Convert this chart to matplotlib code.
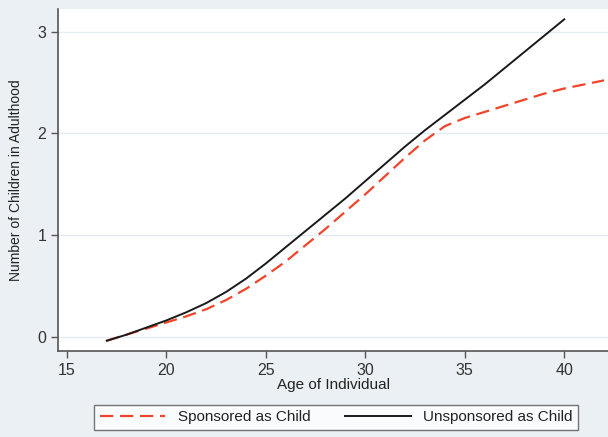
import matplotlib.pyplot as plt

plt.rcParams['font.family'] = ['Liberation Sans', 'DejaVu Sans']

# data
ages_unsp = [17, 18, 19, 20, 21, 22, 23, 24, 25, 26, 27, 28, 29, 30,
             31, 32, 33, 34, 35, 36, 37, 38, 39, 40]
children_unsp = [-0.04, 0.02, 0.09, 0.16, 0.24, 0.33, 0.44, 0.57, 0.72, 0.88, 1.04, 1.20,
                 1.36, 1.53, 1.70, 1.87, 2.03, 2.18, 2.33, 2.48, 2.64, 2.80, 2.96, 3.12]

ages_sp = [17, 18, 19, 20, 21, 22, 23, 24, 25, 26, 27, 28, 29, 30,
           31, 32, 33, 34, 35, 36, 37, 38, 39, 40, 41, 42]
children_sp = [-0.04, 0.02, 0.08, 0.14, 0.20, 0.27, 0.36, 0.47, 0.60, 0.74, 0.90, 1.06,
               1.23, 1.40, 1.58, 1.76, 1.93, 2.07, 2.15, 2.21, 2.27, 2.33, 2.39, 2.44,
               2.48, 2.52]

xticks = [15, 20, 25, 30, 35, 40]
yticks = [0, 1, 2, 3]

bg = '#eaf0f4'
grey = '#555555'

fig = plt.figure(figsize=(6.08, 4.37), dpi=100, facecolor=bg)
ax = fig.add_axes([0.0954, 0.197, 0.9046, 0.782])
ax.set_facecolor('white')

for y in yticks:
    ax.axhline(y, color='#e4ecf0', linewidth=1.0, zorder=0)

ax.plot(ages_sp, children_sp, color='#f0452b', linewidth=1.6, dashes=(6, 3),
        label='Sponsored as Child')
ax.plot(ages_unsp, children_unsp, color='#1a1a1a', linewidth=1.4,
        label='Unsponsored as Child')

ax.set_xlim(14.55, 42.2)
ax.set_ylim(-0.14, 3.22)
ax.set_xticks(xticks)
ax.set_yticks(yticks)

for side in ['top', 'right']:
    ax.spines[side].set_visible(False)
for side in ['left', 'bottom']:
    ax.spines[side].set_color(grey)
    ax.spines[side].set_linewidth(1.2)

ax.tick_params(axis='both', direction='out', length=5, width=1, color=grey,
               labelsize=11.5, labelcolor='#333333')
ax.set_xlabel('Age of Individual', fontsize=11, color='#222222', labelpad=0)
ax.set_ylabel('Number of Children in Adulthood', fontsize=10, color='#222222', labelpad=10)

leg = fig.legend(loc='center', bbox_to_anchor=(0.553, 0.045), ncol=2, fontsize=11,
                 frameon=True, fancybox=False, edgecolor=grey, facecolor='white',
                 handlelength=4.3, columnspacing=2.3, borderpad=0.35)
leg.get_frame().set_linewidth(1.0)
for t in leg.get_texts():
    t.set_color('#222222')

fig.savefig('out.png', dpi=100, facecolor=bg)
